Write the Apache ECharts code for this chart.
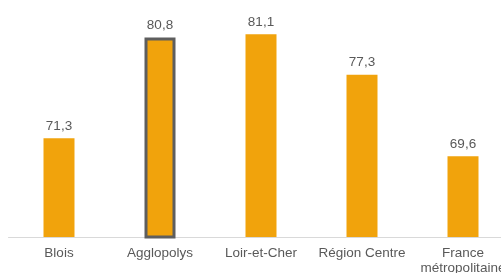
<!DOCTYPE html>
<html>
<head>
<meta charset="utf-8">
<script src="https://cdn.jsdelivr.net/npm/echarts@6/dist/echarts.min.js"></script>
<style>
  html, body { margin: 0; padding: 0; background: #fff; }
  #chart { width: 501px; height: 273px; }
</style>
</head>
<body>
<div id="chart"></div>
<script>
var categories = ['Blois', 'Agglopolys', 'Loir-et-Cher', 'Région Centre', 'France\nmétropolitaine'];
var values = [71.3, 80.8, 81.1, 77.3, 69.6];
var highlighted = 'Agglopolys';

var chart = echarts.init(document.getElementById('chart'), null, { renderer: 'canvas' });

var barData = values.map(function (v, i) {
  var item = { value: v };
  if (categories[i] === highlighted) {
    item.itemStyle = { borderColor: '#5e5e5e', borderWidth: 3 };
  }
  return item;
});

var option = {
  backgroundColor: '#fff',
  animation: false,
  grid: {
    left: 8.5,
    top: 24.8,
    width: 505,
    height: 212.2,
    containLabel: false,
    outerBoundsMode: 'none'
  },
  xAxis: {
    type: 'category',
    data: categories,
    axisLine: { lineStyle: { color: '#d9d9d9', width: 1 } },
    axisTick: { show: false },
    axisLabel: {
      color: '#595959',
      fontFamily: 'Liberation Sans, Arial, sans-serif',
      fontSize: 13.5,
      lineHeight: 15,
      margin: 9,
      interval: 0
    }
  },
  yAxis: {
    type: 'value',
    min: 62,
    max: 82,
    show: false,
    splitLine: { show: false }
  },
  series: [{
    type: 'bar',
    data: barData,
    barWidth: 31,
    itemStyle: { color: '#f1a30c' },
    label: {
      show: true,
      position: 'top',
      distance: 5,
      color: '#595959',
      fontFamily: 'Liberation Sans, Arial, sans-serif',
      fontSize: 13.5,
      formatter: function (p) {
        return p.value.toFixed(1).replace('.', ',');
      }
    }
  }]
};

chart.setOption(option);
</script>
</body>
</html>
